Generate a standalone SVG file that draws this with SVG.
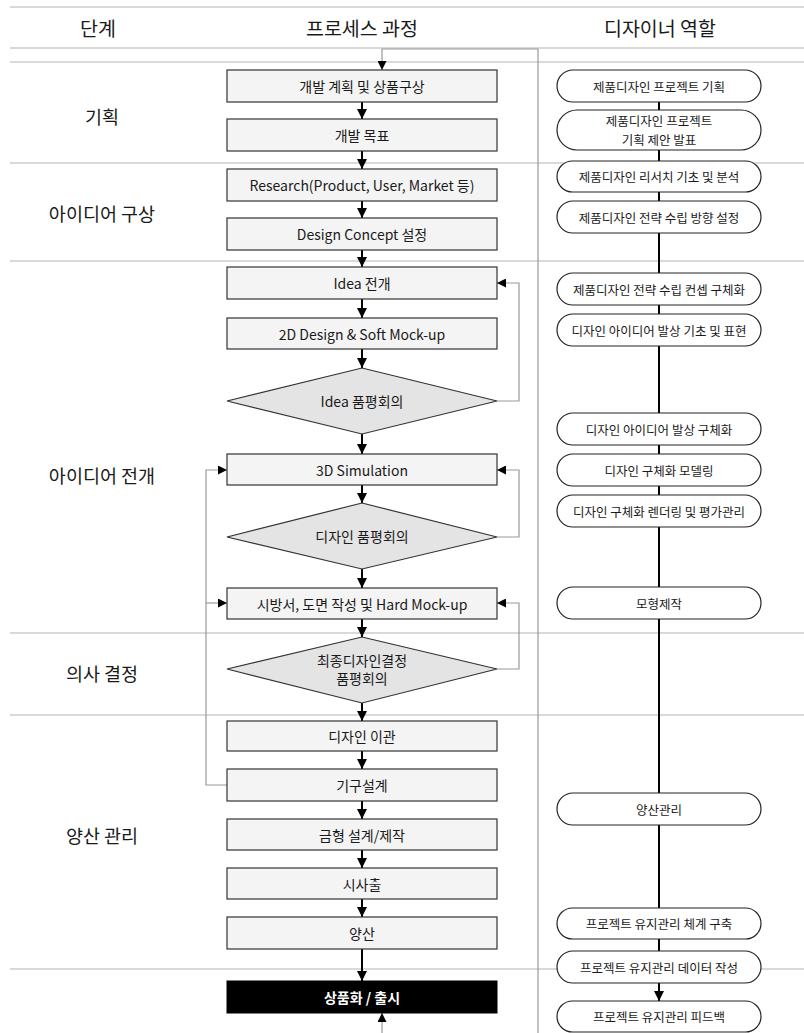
<svg xmlns="http://www.w3.org/2000/svg" width="804" height="1033" viewBox="0 0 804 1033">
<style>
text{font-family:"Noto Sans CJK KR","Noto Sans",sans-serif;fill:#1a1a1a;text-anchor:middle;dominant-baseline:central}
.hdr{font-size:19.5px}
.stage{font-size:18.5px}
.sep{stroke:#d9d9d9;stroke-width:2;fill:none}
.box rect{fill:#f4f4f4;stroke:#333;stroke-width:1.2}
.box text{font-size:14px}
.dia polygon{fill:#e4e4e4;stroke:#333;stroke-width:1.2}
.dia text{font-size:14px}
.ov rect{fill:#fff;stroke:#222;stroke-width:1.2}
.ov text{font-size:12.5px}
.main{stroke:#000;stroke-width:2;fill:none}
.loop{stroke:#999;stroke-width:1.2;fill:none}
</style>
<defs>
<marker id="ah" viewBox="0 0 10 10" refX="10" refY="5" markerUnits="userSpaceOnUse" markerWidth="11" markerHeight="10" orient="auto"><path d="M0,0 L10,5 L0,10 z" fill="#000"/></marker>
<marker id="ahs" viewBox="0 0 10 10" refX="10" refY="5" markerUnits="userSpaceOnUse" markerWidth="9" markerHeight="9" orient="auto"><path d="M0,0 L10,5 L0,10 z" fill="#000"/></marker>
</defs>
<rect width="804" height="1033" fill="#fff"/>
<g id="separators">
<path class="sep" d="M10,7H804M10,48H804M10,62H804M10,163H804M10,261H804M10,633H804M10,715H804M10,969H804"/>
</g>
<g id="headers">
<text class="hdr" x="98" y="27">단계</text>
<text class="hdr" x="362" y="27">프로세스 과정</text>
<text class="hdr" x="660" y="27">디자이너 역할</text>
</g>
<g id="stages">
<text class="stage" x="102" y="116">기획</text>
<text class="stage" x="102" y="213">아이디어 구상</text>
<text class="stage" x="102" y="475">아이디어 전개</text>
<text class="stage" x="102" y="673">의사 결정</text>
<text class="stage" x="102" y="835">양산 관리</text>
</g>
<g id="connectors">
<path class="loop" d="M538,1033V49H382V70" marker-end="url(#ahs)"/>
<path class="loop" d="M382,1033V1013" marker-end="url(#ahs)"/>
<path class="main" d="M362,102V119" marker-end="url(#ah)"/>
<path class="main" d="M362,151V169" marker-end="url(#ah)"/>
<path class="main" d="M362,201V218" marker-end="url(#ah)"/>
<path class="main" d="M362,250V267" marker-end="url(#ah)"/>
<path class="main" d="M362,299V318" marker-end="url(#ah)"/>
<path class="main" d="M362,349V368" marker-end="url(#ah)"/>
<path class="main" d="M362,434V454" marker-end="url(#ah)"/>
<path class="main" d="M362,485V503" marker-end="url(#ah)"/>
<path class="main" d="M362,569V588" marker-end="url(#ah)"/>
<path class="main" d="M362,619V637" marker-end="url(#ah)"/>
<path class="main" d="M362,703V721" marker-end="url(#ah)"/>
<path class="main" d="M362,751V769" marker-end="url(#ah)"/>
<path class="main" d="M362,801V819" marker-end="url(#ah)"/>
<path class="main" d="M362,850V868" marker-end="url(#ah)"/>
<path class="main" d="M362,899V917" marker-end="url(#ah)"/>
<path class="main" d="M362,949V981" marker-end="url(#ah)"/>
<path class="loop" d="M497,401H519V283H497" marker-end="url(#ahs)"/>
<path class="loop" d="M497,537H519V470H497" marker-end="url(#ahs)"/>
<path class="loop" d="M497,669H519V603H497" marker-end="url(#ahs)"/>
<path class="loop" d="M227,785H206V470H227" marker-end="url(#ahs)"/>
<path class="loop" d="M206,603H227" marker-end="url(#ahs)"/>
<path class="main" d="M659,102V983"/>
<path class="main" d="M659,983V1001" marker-end="url(#ah)"/>
</g>
<g id="n1" class="box"><rect x="227" y="70" width="270" height="32"/><text x="362" y="86">개발 계획 및 상품구상</text></g>
<g id="n2" class="box"><rect x="227" y="119" width="270" height="32"/><text x="362" y="135">개발 목표</text></g>
<g id="n3" class="box"><rect x="227" y="169" width="270" height="32"/><text x="362" y="185">Research(Product, User, Market 등)</text></g>
<g id="n4" class="box"><rect x="227" y="218" width="270" height="32"/><text x="362" y="234">Design Concept 설정</text></g>
<g id="n5" class="box"><rect x="227" y="267" width="270" height="32"/><text x="362" y="283">Idea 전개</text></g>
<g id="n6" class="box"><rect x="227" y="318" width="270" height="31"/><text x="362" y="333.5">2D Design &amp; Soft Mock-up</text></g>
<g id="d1" class="dia"><polygon points="362,368 497,401 362,434 227,401"/><text x="362" y="401">Idea 품평회의</text></g>
<g id="n7" class="box"><rect x="227" y="454" width="270" height="31"/><text x="362" y="469.5">3D Simulation</text></g>
<g id="d2" class="dia"><polygon points="362,503 497,537 362,569 227,537"/><text x="362" y="536">디자인 품평회의</text></g>
<g id="n8" class="box"><rect x="227" y="588" width="270" height="31"/><text x="362" y="603.5">시방서, 도면 작성 및 Hard Mock-up</text></g>
<g id="d3" class="dia"><polygon points="362,637 497,669 362,703 227,669"/><text x="362" y="660">최종디자인결정</text><text x="362" y="678">품평회의</text></g>
<g id="n9" class="box"><rect x="227" y="721" width="270" height="30"/><text x="362" y="736">디자인 이관</text></g>
<g id="n10" class="box"><rect x="227" y="769" width="270" height="32"/><text x="362" y="785">기구설계</text></g>
<g id="n11" class="box"><rect x="227" y="819" width="270" height="31"/><text x="362" y="834.5">금형 설계/제작</text></g>
<g id="n12" class="box"><rect x="227" y="868" width="270" height="31"/><text x="362" y="883.5">시사출</text></g>
<g id="n13" class="box"><rect x="227" y="917" width="270" height="32"/><text x="362" y="933">양산</text></g>
<g id="n14"><rect x="227" y="981" width="270" height="32" fill="#000" stroke="#000"/><text x="362" y="997" style="fill:#fff;font-size:14px;font-weight:bold">상품화 / 출시</text></g>
<g id="r1" class="ov"><rect x="557" y="70" width="204" height="32" rx="16"/><text x="659" y="86">제품디자인  프로젝트 기획</text></g>
<g id="r2" class="ov"><rect x="557" y="110" width="204" height="40" rx="20"/><text x="659" y="120.5">제품디자인  프로젝트</text><text x="659" y="139">기획 제안 발표</text></g>
<g id="r3" class="ov"><rect x="557" y="161" width="204" height="31" rx="15.5"/><text x="659" y="176.5">제품디자인 리서치 기초 및 분석</text></g>
<g id="r4" class="ov"><rect x="557" y="201" width="204" height="32" rx="16"/><text x="659" y="217">제품디자인 전략 수립 방향 설정</text></g>
<g id="r5" class="ov"><rect x="557" y="273" width="204" height="32" rx="16"/><text x="659" y="289">제품디자인 전략 수립 컨셉 구체화</text></g>
<g id="r6" class="ov"><rect x="557" y="314" width="204" height="32" rx="16"/><text x="659" y="330">디자인 아이디어 발상 기초 및 표현</text></g>
<g id="r7" class="ov"><rect x="557" y="413" width="204" height="32" rx="16"/><text x="659" y="429">디자인 아이디어 발상 구체화</text></g>
<g id="r8" class="ov"><rect x="557" y="454" width="204" height="32" rx="16"/><text x="659" y="470">디자인 구체화 모델링</text></g>
<g id="r9" class="ov"><rect x="557" y="495" width="204" height="32" rx="16"/><text x="659" y="511">디자인 구체화 렌더링 및 평가관리</text></g>
<g id="r10" class="ov"><rect x="557" y="587" width="204" height="32" rx="16"/><text x="659" y="603">모형제작</text></g>
<g id="r11" class="ov"><rect x="557" y="793" width="204" height="32" rx="16"/><text x="659" y="809">양산관리</text></g>
<g id="r12" class="ov"><rect x="557" y="908" width="204" height="31" rx="15.5"/><text x="659" y="923.5">프로젝트 유지관리 체계 구축</text></g>
<g id="r13" class="ov"><rect x="557" y="951" width="204" height="32" rx="16"/><text x="659" y="967">프로젝트 유지관리 데이터 작성</text></g>
<g id="r14" class="ov"><rect x="557" y="1001" width="204" height="31" rx="15.5"/><text x="659" y="1016.5">프로젝트 유지관리 피드백</text></g>
</svg>
